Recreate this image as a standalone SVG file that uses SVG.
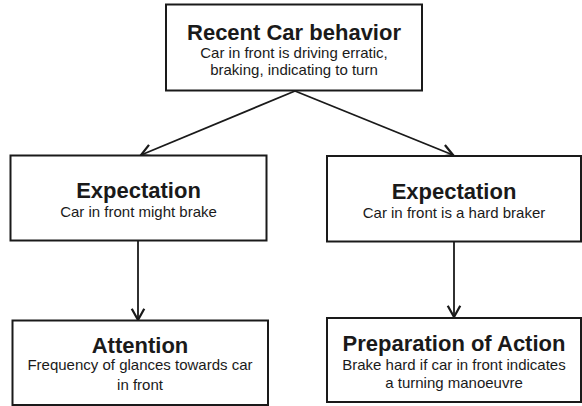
<svg xmlns="http://www.w3.org/2000/svg" width="582" height="406" viewBox="0 0 582 406">
  <style>
    .box { fill: #ffffff; stroke: #1a1a1a; stroke-width: 2; }
    .title { font-family: "Liberation Sans", Arial, sans-serif; font-weight: bold; font-size: 22px; fill: #1a1a1a; text-anchor: middle; }
    .sub { font-family: "Liberation Sans", Arial, sans-serif; font-size: 15px; fill: #1a1a1a; text-anchor: middle; }
    .edge { fill: none; stroke: #1a1a1a; stroke-width: 1.8; }
  </style>
  <defs>
    <marker id="arrow" markerUnits="userSpaceOnUse" markerWidth="20" markerHeight="20" refX="0" refY="0" viewBox="-12 -8 14 16" orient="auto">
      <path d="M-9,-5 L0,0 L-9,5" fill="none" stroke="#1a1a1a" stroke-width="1.8"/>
    </marker>
  </defs>
  <rect width="582" height="406" fill="#ffffff"/>

  <g id="connectors">
    <line class="edge" x1="295" y1="91" x2="141" y2="155" marker-end="url(#arrow)"/>
    <line class="edge" x1="295" y1="91" x2="453" y2="155" marker-end="url(#arrow)"/>
    <line class="edge" x1="138" y1="241" x2="138" y2="320" marker-end="url(#arrow)"/>
    <line class="edge" x1="454" y1="242" x2="454" y2="317" marker-end="url(#arrow)"/>
  </g>

  <g id="recent-car-behavior">
    <rect class="box" x="166" y="4.5" width="256" height="86"/>
    <text class="title" x="294" y="39.5">Recent Car behavior</text>
    <text class="sub" x="294" y="57.5">Car in front is driving erratic,</text>
    <text class="sub" x="294" y="74.5">braking, indicating to turn</text>
  </g>

  <g id="expectation-left">
    <rect class="box" x="10.5" y="155.5" width="256" height="85"/>
    <text class="title" x="138.5" y="198">Expectation</text>
    <text class="sub" x="138.5" y="216.5">Car in front might brake</text>
  </g>

  <g id="expectation-right">
    <rect class="box" x="327" y="156" width="254" height="85.5"/>
    <text class="title" x="454" y="199">Expectation</text>
    <text class="sub" x="454" y="217.5">Car in front is a hard braker</text>
  </g>

  <g id="attention">
    <rect class="box" x="12.5" y="320.5" width="255.5" height="84.5"/>
    <text class="title" x="140" y="352.5">Attention</text>
    <text class="sub" x="140" y="370">Frequency of glances towards car</text>
    <text class="sub" x="140" y="389.5">in front</text>
  </g>

  <g id="preparation-of-action">
    <rect class="box" x="327" y="318" width="254" height="84"/>
    <text class="title" x="454" y="350.5">Preparation of Action</text>
    <text class="sub" x="454" y="370">Brake hard if car in front indicates</text>
    <text class="sub" x="454" y="388">a turning manoeuvre</text>
  </g>
</svg>
